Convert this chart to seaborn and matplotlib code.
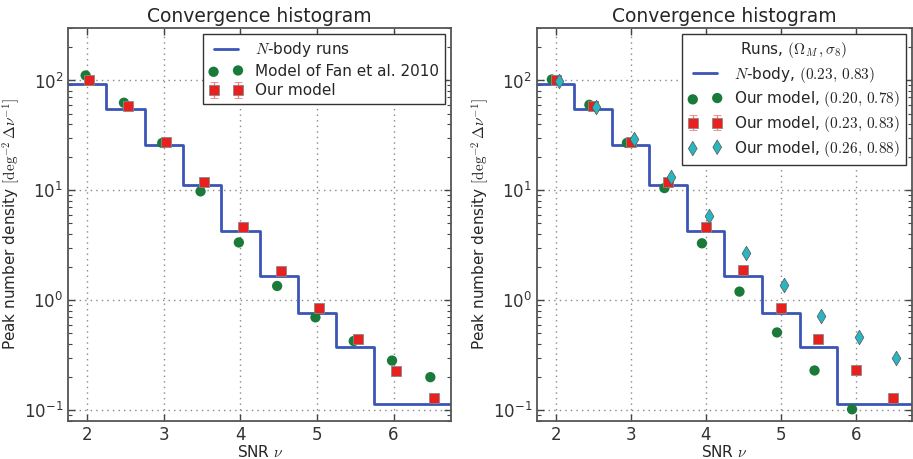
import numpy as np
import pandas as pd
import matplotlib
matplotlib.use("Agg")
import matplotlib.pyplot as plt
import seaborn as sns

# N-body histogram (bin edges and density per bin)
bin_edges = [1.75, 2.25, 2.75, 3.25, 3.75, 4.25, 4.75, 5.25, 5.75, 6.25, 6.75]
nbody_density = [92, 54.5, 26, 11.3, 4.28, 1.68, 0.76, 0.38, 0.113, 0.113]

snr = [2.0, 2.5, 3.0, 3.5, 4.0, 4.5, 5.0, 5.5, 6.0, 6.5]

# left panel
fan_model = [111, 62.7, 27, 9.8, 3.36, 1.35, 0.70, 0.426, 0.283, 0.20]
our_model = [102, 59, 27.6, 11.8, 4.6, 1.85, 0.86, 0.448, 0.229, 0.128]

# right panel
our_020_078 = [102, 60, 27, 10.5, 3.3, 1.2, 0.51, 0.23, 0.102]
our_023_083 = [102, 59, 27.6, 11.8, 4.6, 1.87, 0.85, 0.448, 0.23, 0.128]
our_026_088 = [98, 57.6, 29.4, 13.2, 5.8, 2.67, 1.39, 0.715, 0.46, 0.30]

BLUE = "#3a55b5"
GREEN = "#1a7a3a"
RED = "#e8211f"
CYAN = "#2bb5c0"

sns.set_style("white")
plt.rcParams["mathtext.fontset"] = "cm"
plt.rcParams["font.family"] = ["DejaVu Sans"]

fig = plt.figure(figsize=(9.13, 4.59), dpi=100)
ax1 = fig.add_axes([0.0745, 0.083, 0.4195, 0.856])
ax2 = fig.add_axes([0.588, 0.083, 0.411, 0.856])

steps = pd.DataFrame({"x": bin_edges, "y": nbody_density + [nbody_density[-1]]})


def draw_steps(ax, label):
    sns.lineplot(data=steps, x="x", y="y", ax=ax, color=BLUE, lw=2,
                 drawstyle="steps-post", label=label, estimator=None)


def draw_ours(ax, x, y, label):
    y = np.array(y)
    ax.errorbar(x, y, yerr=0.05 * y, fmt="s", color=RED, ms=7, mec="#888888",
                mew=0.6, ecolor="#f08080", elinewidth=1, capsize=3, label=label,
                zorder=4)


# left panel
draw_steps(ax1, r"$N$-body runs")
sns.scatterplot(x=np.array(snr) - 0.02, y=fan_model, ax=ax1, color=GREEN, s=55,
                edgecolor="none", label="Model of Fan et al. 2010", zorder=3)
draw_ours(ax1, np.array(snr) + 0.03, our_model, "Our model")

# right panel
draw_steps(ax2, r"$N$-body, $(0.23,\,0.83)$")
sns.scatterplot(x=np.array(snr[:9]) - 0.05, y=our_020_078, ax=ax2, color=GREEN,
                s=55, edgecolor="none", label=r"Our model, $(0.20,\,0.78)$", zorder=3)
draw_ours(ax2, np.array(snr), our_023_083, r"Our model, $(0.23,\,0.83)$")
sns.scatterplot(x=np.array(snr) + 0.04, y=our_026_088, ax=ax2, color=CYAN,
                marker="d", s=55, edgecolor="#555555", linewidth=0.5,
                label=r"Our model, $(0.26,\,0.88)$", zorder=5)

for ax in (ax1, ax2):
    ax.set_yscale("log")
    ax.set_xlim(1.75, 6.75)
    ax.set_ylim(0.08, 300)
    ax.set_xticks([2, 3, 4, 5, 6])
    ax.grid(True, which="major", ls=(0, (1, 3)), color="#888888", lw=1)
    ax.grid(False, which="minor")
    ax.tick_params(which="both", direction="in", top=True, right=True,
                   bottom=True, left=True, labelsize=12, colors="#444444",
                   labelcolor="#333333")
    ax.tick_params(which="major", length=5, width=1)
    ax.tick_params(which="minor", length=3, width=0.8)
    for s in ax.spines.values():
        s.set_color("#555555")
        s.set_linewidth(1.3)
    ax.set_title("Convergence histogram", fontsize=13.5, pad=4)
    ax.set_xlabel(r"SNR $\nu$", fontsize=11, labelpad=0)
    ax.set_ylabel(r"Peak number density $[\mathrm{deg}^{-2}\,\Delta\nu^{-1}]$",
                  fontsize=11, labelpad=1)

leg1 = ax1.legend(loc="upper right", numpoints=2, scatterpoints=2, fontsize=11,
                  fancybox=False, framealpha=1, borderaxespad=0.4,
                  handlelength=2.2, labelspacing=0.3)
leg1.get_frame().set_edgecolor("#333333")

handles, labels = ax2.get_legend_handles_labels()
order = [labels.index(lab) for lab in [
    r"$N$-body, $(0.23,\,0.83)$",
    r"Our model, $(0.20,\,0.78)$",
    r"Our model, $(0.23,\,0.83)$",
    r"Our model, $(0.26,\,0.88)$"]]
leg2 = ax2.legend([handles[i] for i in order], [labels[i] for i in order],
                  loc="upper right", numpoints=2, scatterpoints=2, fontsize=11,
                  title=r"Runs, $(\Omega_M\,,\sigma_8)$", title_fontsize=11,
                  fancybox=False, framealpha=1, borderaxespad=0.4,
                  handlelength=2.2, labelspacing=0.3)
leg2.get_frame().set_edgecolor("#333333")

fig.savefig("out.png", dpi=100)
